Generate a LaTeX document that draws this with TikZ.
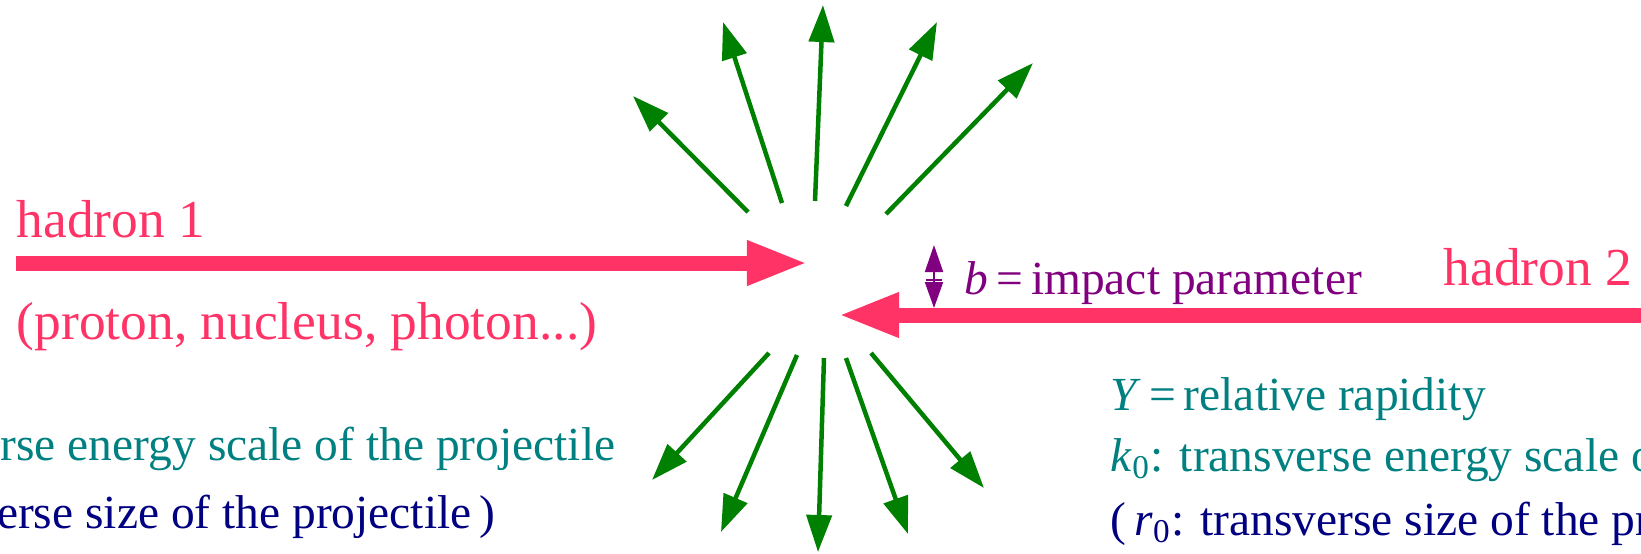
\documentclass[tikz,border=0pt]{standalone}
\usepackage{fontspec}
\setmainfont{Liberation Serif}
\usepackage{xcolor}
\definecolor{hdpink}{RGB}{255,51,102}
\definecolor{raygreen}{RGB}{0,128,0}
\definecolor{imppurple}{RGB}{128,0,128}
\definecolor{scteal}{RGB}{0,128,128}
\definecolor{sznavy}{RGB}{0,0,128}
\usetikzlibrary{arrows.meta}

\begin{document}
\begin{tikzpicture}[
  x=0.01cm, y=-0.01cm,
  hadron/.style={draw=hdpink, line width=0.15cm, -{Triangle[length=0.61cm, width=0.41cm]}},
  ray/.style={draw=raygreen, line width=0.045cm, -{Triangle[length=0.37cm, width=0.25cm]}},
  impact/.style={draw=imppurple, line width=0.02cm},
  lbl/.style={inner sep=0pt, font=\fontsize{15.2}{18}\selectfont},
  note/.style={inner sep=0pt, font=\fontsize{13.5}{16}\selectfont}
]
  \clip (0,0) rectangle (1641,553);

  %% Incoming hadrons
  \coordinate (h1s) at (16,263);
  \coordinate (h1e) at (808,263);
  \coordinate (h2s) at (1645,315);
  \coordinate (h2e) at (838,315);
  \draw[hadron] (h1s) -- (h1e);
  \draw[hadron] (h2s) -- (h2e);
  \node[lbl, text=hdpink, anchor=base west] (h1lbl)  at (16,237) {hadron 1};
  \node[lbl, text=hdpink, anchor=base west] (h1kind) at (16,339) {(proton, nucleus, photon...)};
  \node[lbl, text=hdpink, anchor=base west] (h2lbl)  at (1443,285) {hadron 2};

  %% Impact parameter
  \coordinate (bmid) at (934,281);
  \coordinate (btop) at (934,245);
  \coordinate (bbot) at (934,308);
  \draw[impact, {Bar[width=0.15cm]}-{Triangle[length=0.27cm, width=0.18cm]}] (bmid) -- (btop);
  \draw[impact, -{Triangle[length=0.26cm, width=0.18cm]}] (bmid) -- (bbot);
  \node[note, text=imppurple, anchor=base west] (blbl) at (964,294) {\textit{b}\,=\,impact parameter};

  %% Outgoing particles, upper fan
  \coordinate (u1s) at (748,212);  \coordinate (u1e) at (633,96);
  \coordinate (u2s) at (782,203);  \coordinate (u2e) at (723,22);
  \coordinate (u3s) at (815,201);  \coordinate (u3e) at (823,5);
  \coordinate (u4s) at (846,206);  \coordinate (u4e) at (937,22);
  \coordinate (u5s) at (886,214);  \coordinate (u5e) at (1033,63);
  \draw[ray] (u1s) -- (u1e);
  \draw[ray] (u2s) -- (u2e);
  \draw[ray] (u3s) -- (u3e);
  \draw[ray] (u4s) -- (u4e);
  \draw[ray] (u5s) -- (u5e);

  %% Outgoing particles, lower fan
  \coordinate (d1s) at (769,353);  \coordinate (d1e) at (652,480);
  \coordinate (d2s) at (797,355);  \coordinate (d2e) at (721,532);
  \coordinate (d3s) at (824,358);  \coordinate (d3e) at (818,552);
  \coordinate (d4s) at (846,358);  \coordinate (d4e) at (908,534);
  \coordinate (d5s) at (871,353);  \coordinate (d5e) at (984,488);
  \draw[ray] (d1s) -- (d1e);
  \draw[ray] (d2s) -- (d2e);
  \draw[ray] (d3s) -- (d3e);
  \draw[ray] (d4s) -- (d4e);
  \draw[ray] (d5s) -- (d5e);

  %% Scales of the projectiles
  \node[note, text=scteal, anchor=base east] (klbl) at (616,460) {\textit{k}\textsubscript{1}: transverse energy scale of the projectile};
  \node[note, text=sznavy, anchor=base east] (rlbl) at (496,528) {(\,\textit{r}\textsubscript{1}: transverse size of the projectile\,)};
  \node[note, text=scteal, anchor=base west] (ylbl)  at (1110,410) {\textit{Y}\,=\,relative rapidity};
  \node[note, text=scteal, anchor=base west] (k0lbl) at (1110,471) {\textit{k}\textsubscript{0}: transverse energy scale of the projectile};
  \node[note, text=sznavy, anchor=base west] (r0lbl) at (1110,535) {(\,\textit{r}\textsubscript{0}: transverse size of the projectile\,)};
\end{tikzpicture}
\end{document}
